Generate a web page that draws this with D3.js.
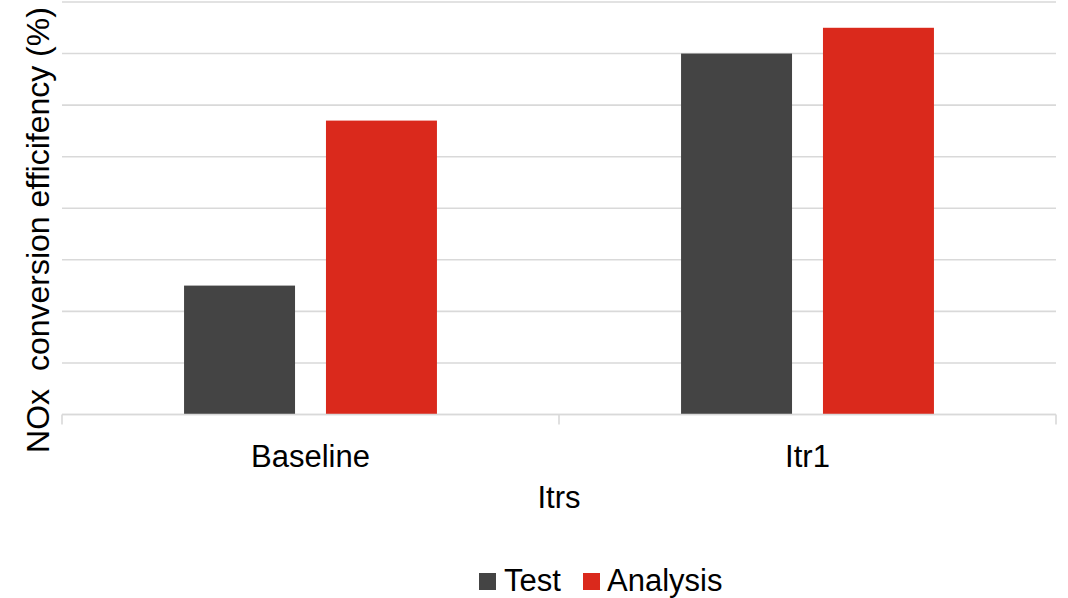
<!DOCTYPE html>
<html>
<head>
<meta charset="utf-8">
<script src="https://cdn.jsdelivr.net/npm/d3@7"></script>
<style>
  html, body { margin: 0; padding: 0; background: #fff; }
  svg { display: block; font-family: "Liberation Sans", Arial, sans-serif; }
</style>
</head>
<body>
<svg id="chart" width="1068" height="598"></svg>
<script>
// Iterations along the x axis
const categories = ["Baseline", "Itr1"];
// Series names and their colours
const seriesNames = ["Test", "Analysis"];
const seriesColors = ["#444444", "#da291c"];
// NOx conversion efficiency (%) per iteration
const testValues = [25, 70];
const analysisValues = [57, 75];
// Gridline positions on the value axis
const yTicks = [0, 10, 20, 30, 40, 50, 60, 70, 80];

const svg = d3.select("#chart");
const plot = { left: 62, right: 1056, top: 2, bottom: 414.5 };

const x0 = d3.scaleBand().domain(categories).range([plot.left, plot.right]).padding(0);
const x1 = d3.scaleBand().domain(seriesNames).range([0, x0.bandwidth()])
  .paddingInner(0.218).paddingOuter(0.86);
const y = d3.scaleLinear().domain([0, 80]).range([plot.bottom, plot.top]);

// Horizontal gridlines
svg.append("g")
  .selectAll("line")
  .data(yTicks)
  .join("line")
  .attr("x1", plot.left).attr("x2", plot.right)
  .attr("y1", d => y(d)).attr("y2", d => y(d))
  .attr("stroke", "#d9d9d9").attr("stroke-width", 1.6);

// Bars
const rows = categories.map((c, i) => ({
  cat: c,
  vals: [
    { s: seriesNames[0], v: testValues[i], color: seriesColors[0] },
    { s: seriesNames[1], v: analysisValues[i], color: seriesColors[1] }
  ]
}));

svg.append("g")
  .selectAll("g")
  .data(rows)
  .join("g")
  .attr("transform", d => `translate(${x0(d.cat)},0)`)
  .selectAll("rect")
  .data(d => d.vals)
  .join("rect")
  .attr("x", d => x1(d.s))
  .attr("width", x1.bandwidth())
  .attr("y", d => y(d.v))
  .attr("height", d => y(0) - y(d.v))
  .attr("fill", d => d.color);

// Category axis
const xAxis = svg.append("g")
  .attr("transform", `translate(0,${plot.bottom})`)
  .call(d3.axisBottom(x0).tickSize(0).tickPadding(52));
xAxis.select(".domain").remove();
xAxis.selectAll("text")
  .attr("font-size", 31).attr("fill", "#000")
  .attr("font-family", "Liberation Sans, Arial, sans-serif")
  .attr("dy", "0");

// Baseline and category separator ticks
svg.append("line")
  .attr("x1", plot.left).attr("x2", plot.right)
  .attr("y1", plot.bottom).attr("y2", plot.bottom)
  .attr("stroke", "#d9d9d9").attr("stroke-width", 1.6);
const sepX = categories.map(c => x0(c)).concat([x0(categories[categories.length - 1]) + x0.bandwidth()]);
svg.append("g")
  .selectAll("line")
  .data(sepX)
  .join("line")
  .attr("x1", d => d).attr("x2", d => d)
  .attr("y1", plot.bottom).attr("y2", plot.bottom + 10)
  .attr("stroke", "#d9d9d9").attr("stroke-width", 1.6);

// Axis titles
svg.append("text")
  .attr("x", (plot.left + plot.right) / 2).attr("y", 508)
  .attr("text-anchor", "middle").attr("font-size", 31).attr("fill", "#000")
  .text("Itrs");

svg.append("text")
  .attr("transform", "translate(49,230) rotate(-90)")
  .attr("text-anchor", "middle").attr("font-size", 32).attr("fill", "#000")
  .attr("xml:space", "preserve")
  .style("white-space", "pre")
  .text("NOx  conversion efficifency (%)");

// Legend
const legend = svg.append("g");
const legendItems = [
  { name: seriesNames[0], color: seriesColors[0], sx: 479, tx: 504 },
  { name: seriesNames[1], color: seriesColors[1], sx: 583, tx: 607 }
];
legend.selectAll("rect")
  .data(legendItems)
  .join("rect")
  .attr("x", d => d.sx).attr("y", 573)
  .attr("width", 17).attr("height", 17)
  .attr("fill", d => d.color);
legend.selectAll("text")
  .data(legendItems)
  .join("text")
  .attr("x", d => d.tx).attr("y", 591)
  .attr("font-size", 31).attr("fill", "#000")
  .text(d => d.name);
</script>
</body>
</html>
